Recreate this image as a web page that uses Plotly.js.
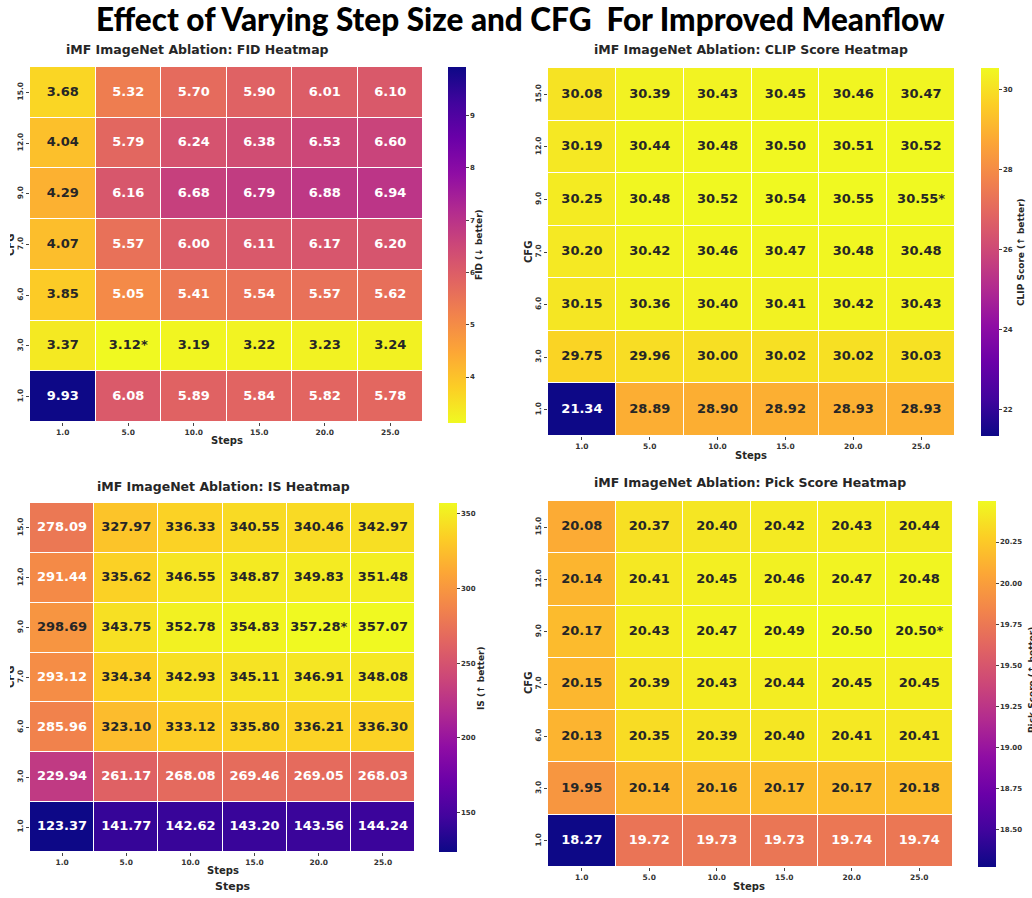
<!DOCTYPE html>
<html>
<head>
<meta charset="utf-8">
<script src="https://cdn.plot.ly/plotly-3.0.1.min.js"></script>
<style>
  html, body { margin: 0; padding: 0; background: #ffffff; }
  #wrap { position: relative; width: 1032px; height: 898px; }
  #chart { width: 1032px; height: 898px; }
  .mask { position: absolute; background: #ffffff; z-index: 10; }
</style>
</head>
<body>
<div id="wrap">
  <div id="chart"></div>
  <div class="mask" style="left:0;top:225px;width:10px;height:45px;"></div>
  <div class="mask" style="left:0;top:655px;width:10px;height:45px;"></div>
</div>
<script>
// ---------------- DATA ----------------
const steps = ['1.0', '5.0', '10.0', '15.0', '20.0', '25.0'];
const cfg = ['1.0', '3.0', '6.0', '7.0', '9.0', '12.0', '15.0'];

// rows ordered by cfg (1.0 at bottom -> 15.0 at top)
const fid = [
  [9.93, 6.08, 5.89, 5.84, 5.82, 5.78],
  [3.37, 3.12, 3.19, 3.22, 3.23, 3.24],
  [3.85, 5.05, 5.41, 5.54, 5.57, 5.62],
  [4.07, 5.57, 6.00, 6.11, 6.17, 6.20],
  [4.29, 6.16, 6.68, 6.79, 6.88, 6.94],
  [4.04, 5.79, 6.24, 6.38, 6.53, 6.60],
  [3.68, 5.32, 5.70, 5.90, 6.01, 6.10]
];
const clip = [
  [21.34, 28.89, 28.90, 28.92, 28.93, 28.93],
  [29.75, 29.96, 30.00, 30.02, 30.02, 30.03],
  [30.15, 30.36, 30.40, 30.41, 30.42, 30.43],
  [30.20, 30.42, 30.46, 30.47, 30.48, 30.48],
  [30.25, 30.48, 30.52, 30.54, 30.55, 30.55],
  [30.19, 30.44, 30.48, 30.50, 30.51, 30.52],
  [30.08, 30.39, 30.43, 30.45, 30.46, 30.47]
];
const isScore = [
  [123.37, 141.77, 142.62, 143.20, 143.56, 144.24],
  [229.94, 261.17, 268.08, 269.46, 269.05, 268.03],
  [285.96, 323.10, 333.12, 335.80, 336.21, 336.30],
  [293.12, 334.34, 342.93, 345.11, 346.91, 348.08],
  [298.69, 343.75, 352.78, 354.83, 357.28, 357.07],
  [291.44, 335.62, 346.55, 348.87, 349.83, 351.48],
  [278.09, 327.97, 336.33, 340.55, 340.46, 342.97]
];
const pick = [
  [18.27, 19.72, 19.73, 19.73, 19.74, 19.74],
  [19.95, 20.14, 20.16, 20.17, 20.17, 20.18],
  [20.13, 20.35, 20.39, 20.40, 20.41, 20.41],
  [20.15, 20.39, 20.43, 20.44, 20.45, 20.45],
  [20.17, 20.43, 20.47, 20.49, 20.50, 20.50],
  [20.14, 20.41, 20.45, 20.46, 20.47, 20.48],
  [20.08, 20.37, 20.40, 20.42, 20.43, 20.44]
];
// best cell [cfg index, steps index]
const fidBest = [1, 1];
const clipBest = [4, 5];
const isBest = [4, 4];
const pickBest = [4, 5];

const mainTitle = 'Effect of Varying Step Size and CFG  For Improved Meanflow';
const subTitles = [
  'iMF ImageNet Ablation: FID Heatmap',
  'iMF ImageNet Ablation: CLIP Score Heatmap',
  'iMF ImageNet Ablation: IS Heatmap',
  'iMF ImageNet Ablation: Pick Score Heatmap'
];
const cbTitles = ['FID (↓ better)', 'CLIP Score (↑ better)', 'IS (↑ better)', 'Pick Score (↑ better)'];
const fidTicks = [4, 5, 6, 7, 8, 9];
const clipTicks = [22, 24, 26, 28, 30];
const isTicks = [150, 200, 250, 300, 350];
const pickTicks = [18.50, 18.75, 19.00, 19.25, 19.50, 19.75, 20.00, 20.25];

// matplotlib "plasma" colour map
const plasma = [
  [0.0, '#0d0887'], [0.1, '#41049d'], [0.2, '#6a00a8'], [0.3, '#8f0da4'],
  [0.4, '#b12a90'], [0.5, '#cc4778'], [0.6, '#e16462'], [0.7, '#f2844b'],
  [0.8, '#fca636'], [0.9, '#fcce25'], [1.0, '#f0f921']
];

// ---------------- LAYOUT HELPERS ----------------
const W = 1032, H = 898;
const px = x => x / W;
const py = y => 1 - y / H;
const BOLD = { family: 'DejaVu Sans', weight: 'bold' };
const DARK = '#262626';

const panels = [
  { z: fid, best: fidBest, rev: true, ticks: fidTicks, tf: '', box: [30, 423, 67, 422], cb: [448, 67, 423],
    title: [197, 49], xt: [227, 441], yt: [10, 245], cbt: [479, 245] },
  { z: clip, best: clipBest, rev: false, ticks: clipTicks, tf: '', box: [548, 955, 68, 436], cb: [981, 68, 436],
    title: [751, 49], xt: [751, 455], yt: [528, 252], cbt: [1021, 252] },
  { z: isScore, best: isBest, rev: false, ticks: isTicks, tf: '', box: [30, 415, 503, 852], cb: [439, 503, 852],
    title: [223, 486], xt: [223, 870], yt: [10, 677], cbt: [481, 678] },
  { z: pick, best: pickBest, rev: false, ticks: pickTicks, tf: '.2f', box: [548, 953, 501, 867], cb: [978, 501, 867],
    title: [750, 482], xt: [749, 886], yt: [528, 683], cbt: [1032, 680] }
];

const traces = [];
const layout = {
  width: W, height: H,
  margin: { l: 0, r: 0, t: 0, b: 0 },
  paper_bgcolor: '#ffffff',
  plot_bgcolor: '#ffffff',
  showlegend: false,
  annotations: [],
  font: { family: 'DejaVu Sans', color: DARK }
};

function ann(text, x, y, size, opts) {
  return Object.assign({
    text: text, xref: 'paper', yref: 'paper', x: px(x), y: py(y),
    xanchor: 'center', yanchor: 'middle', showarrow: false,
    font: Object.assign({ size: size, color: DARK }, BOLD)
  }, opts || {});
}

layout.annotations.push(ann(mainTitle, 520, 19, 31.5, {
  font: { family: 'Lato', weight: 900, size: 31.5, color: '#000000' }
}));

panels.forEach((p, i) => {
  const n = i + 1;
  const xa = 'x' + (n === 1 ? '' : n), ya = 'y' + (n === 1 ? '' : n);
  const xk = 'xaxis' + (n === 1 ? '' : n), yk = 'yaxis' + (n === 1 ? '' : n);
  const flat = p.z.flat();
  const zmin = Math.min(...flat), zmax = Math.max(...flat);

  traces.push({
    type: 'heatmap', x: steps, y: cfg, z: p.z, xaxis: xa, yaxis: ya,
    colorscale: plasma, reversescale: p.rev, zmin: zmin, zmax: zmax,
    xgap: 1, ygap: 1, hoverinfo: 'skip',
    colorbar: {
      x: px(p.cb[0]), xanchor: 'left', xpad: 0, ypad: 0,
      y: py((p.cb[1] + p.cb[2]) / 2), yanchor: 'middle',
      len: (p.cb[2] - p.cb[1]) / H, lenmode: 'fraction',
      thickness: 18, thicknessmode: 'pixels', outlinewidth: 0,
      ticks: 'outside', ticklen: 3, tickwidth: 1, tickcolor: '#444',
      tickvals: p.ticks, tickformat: p.tf,
      tickfont: Object.assign({ size: 7, color: '#333' }, BOLD)
    }
  });

  const tx = [], ty = [], tt = [], tc = [];
  p.z.forEach((row, r) => row.forEach((v, c) => {
    let t = (v - zmin) / (zmax - zmin);
    if (p.rev) t = 1 - t;
    tx.push(steps[c]); ty.push(cfg[r]);
    const star = (r === p.best[0] && c === p.best[1]) ? '*' : '';
    tt.push(v.toFixed(2) + star);
    tc.push(t < 0.74 ? '#ffffff' : DARK);
  }));
  traces.push({
    type: 'scatter', mode: 'text', x: tx, y: ty, text: tt, xaxis: xa, yaxis: ya,
    textposition: 'middle center', hoverinfo: 'skip', cliponaxis: false,
    textfont: Object.assign({ size: 13, color: tc }, BOLD)
  });

  layout[xk] = {
    domain: [px(p.box[0]), px(p.box[1])], anchor: ya,
    type: 'category', categoryorder: 'array', categoryarray: steps,
    range: [-0.5, steps.length - 0.5], showgrid: false, zeroline: false, showline: false,
    ticks: 'outside', ticklen: 3, tickwidth: 1, tickcolor: '#444',
    tickfont: Object.assign({ size: 7.5, color: '#333' }, BOLD), fixedrange: true
  };
  layout[yk] = {
    domain: [py(p.box[3]), py(p.box[2])], anchor: xa,
    type: 'category', categoryorder: 'array', categoryarray: cfg,
    range: [-0.5, cfg.length - 0.5], showgrid: false, zeroline: false, showline: false,
    ticks: 'outside', ticklen: 3, tickwidth: 1, tickcolor: '#444', tickangle: -90,
    tickfont: Object.assign({ size: 7.5, color: '#333' }, BOLD), fixedrange: true
  };

  layout.annotations.push(ann(subTitles[i], p.title[0], p.title[1], 12.5));
  layout.annotations.push(ann('Steps', p.xt[0], p.xt[1], 10));
  layout.annotations.push(ann('CFG', p.yt[0], p.yt[1], 10, { textangle: -90 }));
  layout.annotations.push(ann(cbTitles[i], p.cbt[0], p.cbt[1], 9, { textangle: -90 }));
});
// duplicated x-axis title below the IS heatmap
layout.annotations.push(ann('Steps', 233, 886, 11));

Plotly.newPlot('chart', traces, layout, { staticPlot: true, displayModeBar: false });
</script>
</body>
</html>
